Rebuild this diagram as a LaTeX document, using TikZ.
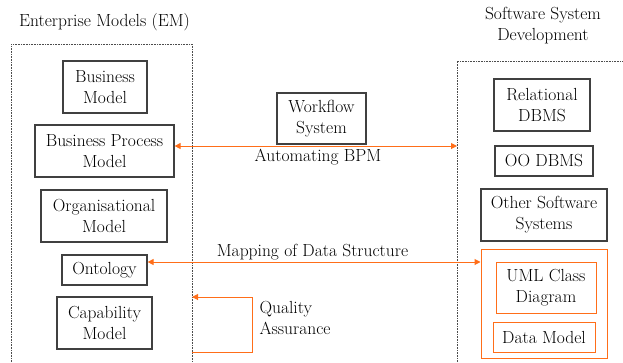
\documentclass[tikz,border=0pt]{standalone}
\usetikzlibrary{arrows.meta, positioning}

\definecolor{emorange}{RGB}{255,110,25}

\tikzset{
    box/.style={draw=black!75, line width=1.2pt, inner sep=0pt, align=center},
    obox/.style={box, draw=emorange, line width=1pt},
    frame/.style={draw=black!70, line width=0.8pt, dash pattern=on 0.8pt off 0.8pt},
    link/.style={emorange, line width=1pt, {Triangle[length=6pt,width=6pt]}-{Triangle[length=6pt,width=6pt]}},
    back/.style={emorange, line width=1pt, -{Triangle[length=6pt,width=6pt]}}
}

\begin{document}
\begin{tikzpicture}[x=1pt, y=-1pt, font=\fontsize{17.5}{21}\selectfont]
    \useasboundingbox (0,0) rectangle (623,362);

    % Enterprise models
    \draw[frame] (11,362) -- (11,44) -- (192,44) -- (192,362);
    \node (emtitle) at (104.5,22) {Enterprise Models (EM)};

    \node[box, minimum width=84pt, minimum height=52pt] (bm) at (105,87) {Business\\Model};
    \node[box, minimum width=139pt, minimum height=52pt] (bpm) at (104.5,151) {Business Process\\Model};
    \node[box, minimum width=126pt, minimum height=52pt] (org) at (104,216) {Organisational\\Model};
    \node[box, minimum width=85pt, minimum height=30pt] (onto) at (104.5,270) {Ontology};
    \node[box, minimum width=95pt, minimum height=52pt] (cap) at (104.5,323) {Capability\\Model};

    % Software system development
    \draw[frame] (457,362) -- (457,61) -- (623,61);
    \node[align=center] (ssdtitle) at (543,26) {Software System\\Development};

    \node[box, minimum width=96pt, minimum height=52pt] (rdbms) at (542,105) {Relational\\DBMS};
    \node[box, minimum width=98pt, minimum height=30pt] (oodbms) at (544,161) {OO DBMS};
    \node[box, minimum width=126pt, minimum height=52pt] (other) at (544,215) {Other Software\\Systems};
    \node[obox, minimum width=126pt, minimum height=109pt] (dgroup) at (544,303.5) {};
    \node[obox, minimum width=100pt, minimum height=51pt] (uml) at (546,287.5) {UML Class\\Diagram};
    \node[obox, minimum width=102pt, minimum height=30pt] (dm) at (544,337) {Data Model};

    % Workflow
    \node[box, minimum width=89pt, minimum height=51pt] (wf) at (321.5,118.5) {Workflow\\System};
    \coordinate (ssdl) at (457,146);
    \draw[link] ([yshift=5pt]bpm.east) -- (ssdl);
    \node (autolbl) at (318,157) {Automating BPM};

    % Mapping
    \draw[link] ([yshift=8pt]onto.east) -- ([yshift=8pt]onto.east -| dgroup.west);
    \node (maplbl) at (312.5,252) {Mapping of Data Structure};

    % Quality assurance
    \coordinate (qafrom) at (192,352);
    \coordinate (qato) at (192,297);
    \draw[back] (qafrom) -- (252,352) -- (252,297) -- (qato);
    \node[anchor=west, align=left] (qalbl) at (256,317.5) {Quality\\Assurance};
\end{tikzpicture}
\end{document}
